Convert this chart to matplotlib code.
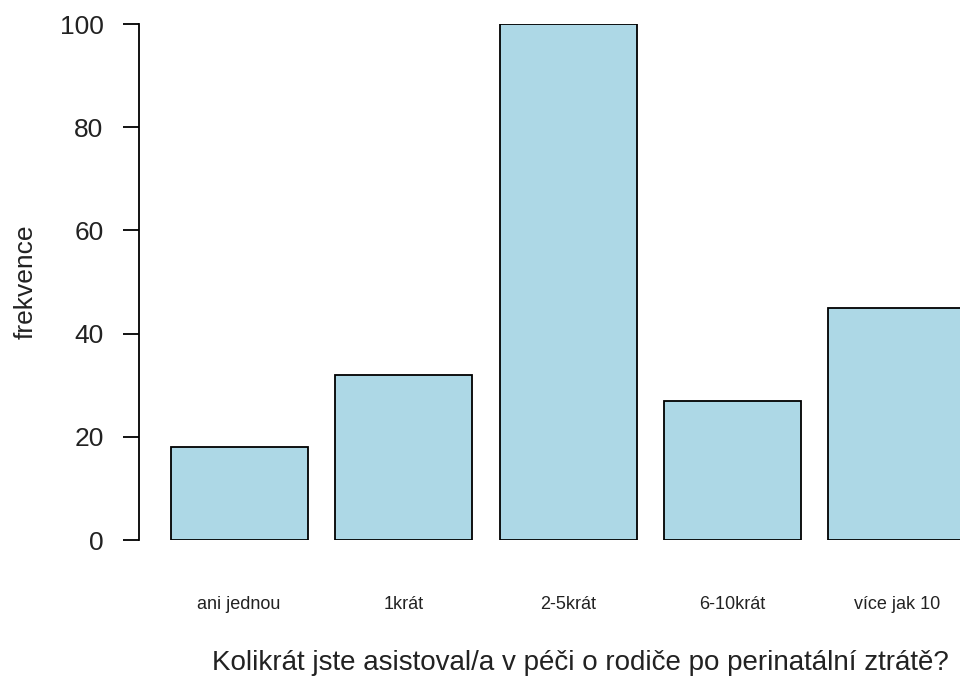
import matplotlib
matplotlib.use("Agg")
import matplotlib.pyplot as plt

# answer categories and counts
categories = ["ani jednou", "1krát", "2-5krát", "6-10krát", "více jak 10"]
counts = [18, 32, 100, 27, 45]
yticks = [0, 20, 40, 60, 80, 100]

plt.rcParams['font.family'] = ['Liberation Sans', 'DejaVu Sans']
text_color = '#222222'

fig = plt.figure(figsize=(9.6, 6.79), dpi=100)
# axes placed in pixels of the 960x679 picture; right side is cut like the original
ax = fig.add_axes([139 / 960, 139 / 679, 821 / 960, 516 / 679])

positions = list(range(len(categories)))
ax.bar(positions, counts, width=137 / 164.5, color='#ADD8E6',
       edgecolor='black', linewidth=1.3)

ax.set_xlim(-0.608, 4.383)
ax.set_ylim(0, 100)

for side in ['top', 'right', 'bottom']:
    ax.spines[side].set_visible(False)
ax.spines['left'].set_linewidth(1.3)

ax.set_yticks(yticks)
ax.tick_params(axis='y', length=11.5, width=1.3, pad=14,
               labelsize=19, labelcolor=text_color)
ax.set_xticks(positions)
ax.set_xticklabels(categories)
ax.tick_params(axis='x', length=0, pad=40, labelsize=13,
               labelcolor=text_color)

ax.set_ylabel('frekvence', fontsize=19, color=text_color, labelpad=16)
ax.set_xlabel('Kolikrát jste asistoval/a v péči o rodiče po perinatální ztrátě?',
              fontsize=20, color=text_color)
# the original plot region is wider than the cropped picture
ax.xaxis.set_label_coords((580 - 139) / 821, -(663 - 540) / 516)
ax.xaxis.label.set_va('center')

fig.savefig('out.png', dpi=100)
